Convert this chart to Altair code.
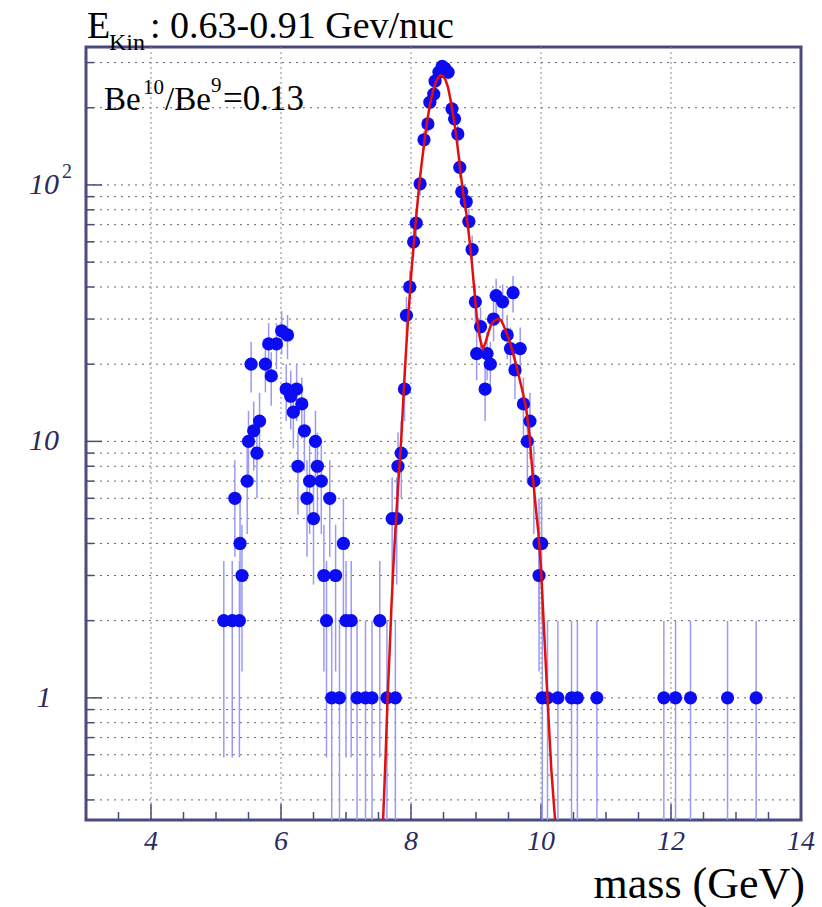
import altair as alt
import pandas as pd

# ---------------- data ----------------
mass = [5.12, 5.25, 5.29, 5.36, 5.37, 5.40, 5.48, 5.50, 5.54, 5.58, 5.63, 5.67, 5.76, 5.81, 5.85,
        5.93, 6.01, 6.08, 6.10, 6.15, 6.19, 6.24, 6.26, 6.32, 6.36, 6.40, 6.44, 6.50, 6.53, 6.56,
        6.62, 6.66, 6.70, 6.75, 6.78, 6.84, 6.90, 6.96, 7.00, 7.08, 7.17, 7.30, 7.40, 7.52, 7.63,
        7.76, 7.71, 7.78, 7.80, 7.85, 7.90, 7.93, 7.98, 8.04, 8.08, 8.14, 8.20, 8.26, 8.29, 8.35,
        8.37, 8.43, 8.48, 8.52, 8.57, 8.63, 8.67, 8.72, 8.75, 8.78, 8.85, 8.89, 8.94, 8.99, 9.07,
        9.01, 9.17, 9.22, 9.14, 9.27, 9.31, 9.41, 9.57, 9.48, 9.53, 9.68, 9.60, 9.73, 9.83, 9.79,
        9.89, 9.97, 10.01, 9.97, 10.02, 10.10, 10.26, 10.47, 10.56, 10.86, 11.89, 12.07, 12.30,
        12.87, 13.31]
counts = [2, 2, 6, 2, 4, 3, 7, 10, 20, 11, 9, 12, 20, 24, 18,
          24, 27, 16, 26, 15, 13, 16, 8, 14, 11, 6, 7, 5, 10, 8,
          7, 3, 2, 6, 1, 3, 1, 4, 2, 2, 1, 1, 1, 2, 1,
          1, 5, 5, 8, 9, 16, 31, 40, 60, 71, 101, 150, 173, 210, 226,
          254, 275, 290, 285, 275, 198, 181, 158, 117, 94, 86, 72, 56, 35, 28,
          22, 22, 20, 16, 30, 37, 35, 38, 26, 23, 23, 19, 14, 12, 10,
          7, 4, 4, 3, 1, 1, 1, 1, 1, 1, 1, 1, 1,
          1, 1]

fit_mass = [7.57, 7.61, 7.64, 7.67, 7.70, 7.73, 7.77, 7.81, 7.85, 7.89,
            7.93, 7.97, 8.01, 8.05, 8.09, 8.13, 8.17, 8.21, 8.25, 8.29,
            8.33, 8.37, 8.41, 8.45, 8.49, 8.53, 8.57, 8.61, 8.65, 8.69,
            8.73, 8.77, 8.81, 8.85, 8.89, 8.93, 8.97, 9.01, 9.05, 9.09,
            9.11, 9.15, 9.19, 9.23, 9.28, 9.33, 9.38, 9.42, 9.47, 9.52,
            9.57, 9.62, 9.67, 9.72, 9.77, 9.82, 9.87, 9.92, 9.96, 10.00,
            10.04, 10.08, 10.12, 10.16, 10.20, 10.24]
fit_counts = [0.33, 0.60, 1.0, 1.5, 2.3, 3.3, 5.0, 7.2, 10.2, 16,
              24, 34, 47, 62, 80, 102, 125, 150, 178, 205,
              228, 247, 260, 268, 266, 257, 240, 214, 186, 160,
              132, 108, 90, 78, 64, 52, 40, 31, 26, 23.5,
              23, 24.5, 26.5, 28.5, 29.5, 30, 29.8, 28.5, 26.5, 24.5,
              22, 19.8, 17.5, 15.5, 13.5, 10.8, 7.5, 5.5, 4.4, 3.2,
              2.0, 1.25, 0.8, 0.52, 0.38, 0.28]

x_label_vals = [4, 6, 8, 10, 12, 14]
x_major = [4, 6, 8, 10, 12]
x_minor = [3.5, 4.5, 5, 5.5, 6.5, 7, 7.5, 8.5, 9, 9.5, 10.5, 11, 11.5, 12.5, 13, 13.5]
y_major = [1, 10, 100]
y_labels = ["1", "10", "10"]
y_sup_vals = [100]
y_sup = ["2"]
y_minor = [0.4, 0.5, 0.6, 0.7, 0.8, 0.9, 2, 3, 4, 5, 6, 7, 8, 9,
           20, 30, 40, 50, 60, 70, 80, 90, 200, 300]

x_title = "mass (GeV)"
title_parts = ["E", "Kin", ": 0.63-0.91 Gev/nuc"]
ratio_parts = ["Be", "10", "/Be", "9", "=0.13"]

# ---------------- styling ----------------
W, H = 715, 773
FONT = "Liberation Serif"
FRAME = "#4a4a7e"
LABEL = "#2b2b60"

xs = alt.Scale(domain=[3, 14], nice=False, zero=False)
ys = alt.Scale(type="log", domain=[0.334, 345], nice=False)

pts = pd.DataFrame({"mass": mass, "n": counts})
fit = pd.DataFrame({"mass": fit_mass, "n": fit_counts})

# grid lines
hgrid = alt.Chart(pd.DataFrame({"v": y_major + y_minor})).mark_rule(
    color="#666666", strokeWidth=1, strokeDash=[2, 5]
).encode(y=alt.Y("v:Q", scale=ys, axis=None), x=alt.value(0), x2=alt.value(W))

vgrid = alt.Chart(pd.DataFrame({"v": x_major})).mark_rule(
    color="#888888", strokeWidth=1, strokeDash=[2, 3]
).encode(x=alt.X("v:Q", scale=xs, axis=None), y=alt.value(0), y2=alt.value(H))

# inner ticks
ytm = alt.Chart(pd.DataFrame({"v": y_major})).mark_rule(color=FRAME, strokeWidth=1.5).encode(
    y=alt.Y("v:Q", scale=ys, axis=None), x=alt.value(0), x2=alt.value(16))
ytn = alt.Chart(pd.DataFrame({"v": y_minor})).mark_rule(color=FRAME, strokeWidth=1.5).encode(
    y=alt.Y("v:Q", scale=ys, axis=None), x=alt.value(0), x2=alt.value(8))
xtm = alt.Chart(pd.DataFrame({"v": x_major})).mark_rule(color=FRAME, strokeWidth=1.5).encode(
    x=alt.X("v:Q", scale=xs, axis=None), y=alt.value(H), y2=alt.value(H - 16))
xtn = alt.Chart(pd.DataFrame({"v": x_minor})).mark_rule(color=FRAME, strokeWidth=1.5).encode(
    x=alt.X("v:Q", scale=xs, axis=None), y=alt.value(H), y2=alt.value(H - 8))

# tick labels placed through the scales
xlab = alt.Chart(pd.DataFrame({"v": x_label_vals, "t": [str(v) for v in x_label_vals]})).mark_text(
    font=FONT, fontSize=28, fontStyle="italic", color=LABEL, align="center", baseline="top"
).encode(x=alt.X("v:Q", scale=xs, axis=None), y=alt.value(H + 8), text="t:N")

ylab = alt.Chart(pd.DataFrame({"v": y_major, "t": y_labels})).mark_text(
    font=FONT, fontSize=30, fontStyle="italic", color=LABEL, align="center", baseline="middle"
).encode(y=alt.Y("v:Q", scale=ys, axis=None), x=alt.value(-42), text="t:N")

ysup = alt.Chart(pd.DataFrame({"v": y_sup_vals, "t": y_sup})).mark_text(
    font=FONT, fontSize=20, color=LABEL, align="left", baseline="middle", dy=-13
).encode(y=alt.Y("v:Q", scale=ys, axis=None), x=alt.value(-24), text="t:N")

# error bars (Poisson)
err = alt.Chart(pts).transform_calculate(
    lo="max(datum.n - sqrt(datum.n), 0.05)",
    hi="datum.n + sqrt(datum.n)",
).mark_rule(color="#9a9af5", strokeWidth=1.5, clip=True).encode(
    x=alt.X("mass:Q", scale=xs, axis=None),
    y=alt.Y("lo:Q", scale=ys, axis=None),
    y2="hi:Q",
)

points = alt.Chart(pts).mark_circle(size=175, color="#0c0cf2", opacity=1, clip=True).encode(
    x=alt.X("mass:Q", scale=xs, axis=None),
    y=alt.Y("n:Q", scale=ys, axis=None),
)

fitline = alt.Chart(fit).mark_line(color="#e01010", strokeWidth=2.5, clip=True).encode(
    x=alt.X("mass:Q", scale=xs, axis=None),
    y=alt.Y("n:Q", scale=ys, axis=None),
)


def label(txt, x, y, size, align="left"):
    return alt.Chart(pd.DataFrame({"t": [txt]})).mark_text(
        font=FONT, fontSize=size, align=align, baseline="alphabetic", color="black"
    ).encode(text="t:N", x=alt.value(x), y=alt.value(y))


texts = [
    label(title_parts[0], 1, -9, 38),
    label(title_parts[1], 23, 3, 24),
    label(title_parts[2], 64, -9, 38),
    label(ratio_parts[0], 18, 63, 33),
    label(ratio_parts[1], 57, 47, 21),
    label(ratio_parts[2], 79, 63, 33),
    label(ratio_parts[3], 125, 45, 21),
    label(ratio_parts[4], 137, 63, 35),
    label(x_title, W + 4, H + 78, 44, align="right"),
]

chart = alt.layer(
    hgrid, vgrid, ytm, ytn, xtm, xtn, err, points, fitline, xlab, ylab, ysup, *texts
).properties(
    width=W, height=H,
    autosize=alt.AutoSizeParams(type="none"),
    padding={"left": 86, "top": 47, "right": 21, "bottom": 87},
    background="white",
).configure_view(stroke=FRAME, strokeWidth=3)

chart.save("out.html", embed_options={"renderer": "svg", "actions": False})
